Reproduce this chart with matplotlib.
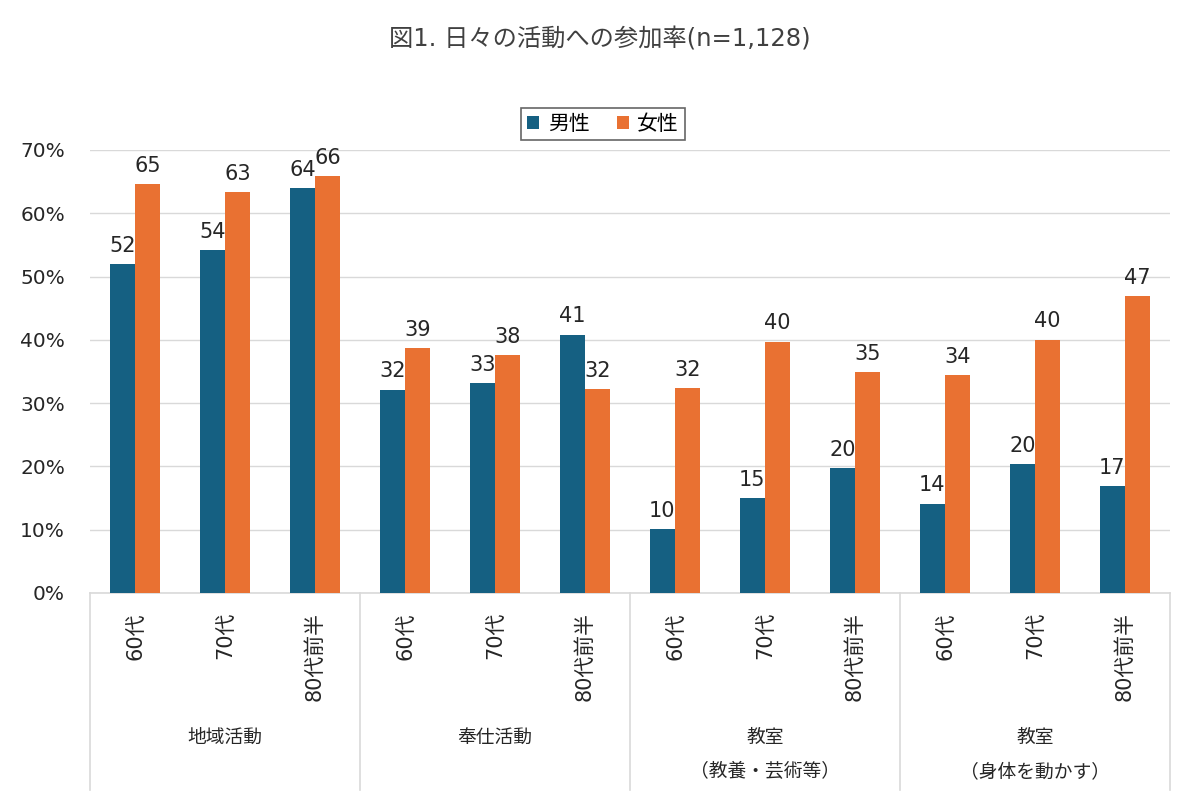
import matplotlib
matplotlib.use('Agg')
import matplotlib.pyplot as plt
import numpy as np

plt.rcParams['font.family'] = ['DejaVu Sans', 'Noto Sans CJK JP']

# Data
groups = [('地域活動', ''), ('奉仕活動', ''), ('教室', '（教養・芸術等）'), ('教室', '（身体を動かす）')]
ages = ['60代', '70代', '80代前半']
male = [52.0, 54.2, 64.0, 32.1, 33.2, 40.8, 10.1, 15.0, 19.7, 14.1, 20.4, 16.9]
female = [64.6, 63.3, 65.9, 38.7, 37.6, 32.2, 32.4, 39.7, 34.9, 34.4, 40.0, 46.9]
series_names = ['男性', '女性']
yticks = [0, 10, 20, 30, 40, 50, 60, 70]

MALE_C = '#156082'
FEMALE_C = '#E97132'
GRID_C = '#D9D9D9'
TEXT_C = '#262626'

fig = plt.figure(figsize=(12, 8.05), dpi=100)
ax = fig.add_axes([0.075, 0.2634, 0.9, 0.5503])

n = len(male)
x = np.arange(n)
w = 0.28
b1 = ax.bar(x - w / 2, male, w, color=MALE_C, label=series_names[0], zorder=3)
b2 = ax.bar(x + w / 2, female, w, color=FEMALE_C, label=series_names[1], zorder=3)

for bars in (b1, b2):
    for r in bars:
        ax.annotate(f'{r.get_height():.0f}', (r.get_x() + r.get_width() / 2, r.get_height()),
                    xytext=(0, 6), textcoords='offset points', ha='center', va='bottom',
                    fontsize=15, color=TEXT_C)

ax.set_xlim(-0.5, n - 0.5)
ax.set_ylim(0, 70)
ax.set_yticks(yticks)
ax.set_yticklabels([f'{v}%' for v in yticks], fontsize=14.5, color=TEXT_C)
ax.tick_params(axis='y', length=0, pad=18)
ax.yaxis.grid(True, color=GRID_C, lw=1, zorder=0)
ax.set_xticks([])
for s in ['top', 'right', 'left']:
    ax.spines[s].set_visible(False)
ax.spines['bottom'].set_color(GRID_C)
ax.spines['bottom'].set_linewidth(1.2)

# Category labels (rotated) and group labels
trans = ax.get_xaxis_transform()
for i in range(n):
    ax.text(x[i], -0.043, ages[i % 3], rotation=90, ha='center', va='top',
            fontsize=15, color=TEXT_C, transform=trans)
for g, (l1, l2) in enumerate(groups):
    ax.text(3 * g + 1, -0.327, l1, ha='center', va='center', fontsize=13.5,
            color=TEXT_C, transform=trans)
    if l2:
        ax.text(3 * g + 1, -0.404, l2, ha='center', va='center', fontsize=13.5,
                color=TEXT_C, transform=trans)
for k in range(len(groups) + 1):
    ax.plot([3 * k - 0.5, 3 * k - 0.5], [0, -0.445], color=GRID_C, lw=1.2,
            transform=trans, clip_on=False)

leg = ax.legend(loc='center', bbox_to_anchor=(0.475, 1.059), ncol=2, fontsize=15,
                frameon=True, fancybox=False, edgecolor='#404040', handlelength=0.6,
                handleheight=0.6, handletextpad=0.4, columnspacing=1.3, borderpad=0.3)
leg.get_frame().set_linewidth(1.2)

fig.text(0.5, 0.951, '図1. 日々の活動への参加率(n=1,128)', ha='center', va='center',
         fontsize=17.5, color='#404040')

fig.savefig('out.png', dpi=100)
